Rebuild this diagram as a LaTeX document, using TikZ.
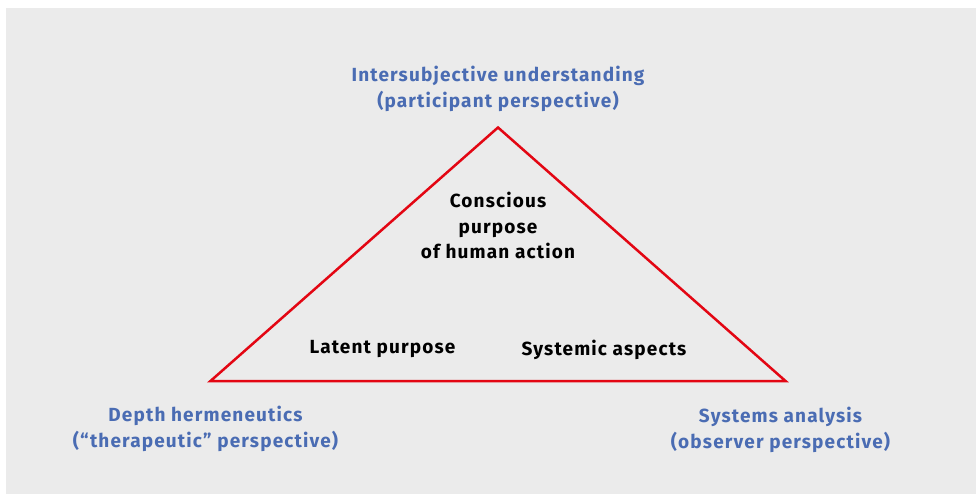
\documentclass[tikz,border=0pt]{standalone}
\usepackage{fontspec}
\setmainfont{Fira Sans}[LetterSpace=6.0]
\definecolor{bgray}{HTML}{EBEBEB}
\definecolor{tblue}{HTML}{4A6CB3}
\definecolor{tred}{HTML}{E30613}
\begin{document}
\begin{tikzpicture}[x=1pt,y=-1pt,
  lbl/.style={inner sep=0pt,align=center,font=\fontsize{19}{25.5}\selectfont\bfseries},
  bluelbl/.style={lbl,text=tblue},
  blacklbl/.style={lbl,text=black},
  tri/.style={draw=tred,line width=2.5pt,line join=miter}]
\useasboundingbox (0,0) rectangle (976,494);
\fill[white] (0,0) rectangle (976,494);
\fill[bgray] (6,8) rectangle (976,494);
\coordinate (top) at (498,127.5);
\coordinate (left) at (210.5,381);
\coordinate (right) at (785.5,381);
\draw[tri] (top) -- (right) -- (left) -- cycle;
\node[bluelbl] (inter) at (498,89) {Intersubjective understanding\\(participant perspective)};
\node[bluelbl] (depth) at (205.5,429) {Depth hermeneutics\\(“therapeutic” perspective)};
\node[bluelbl] (sys) at (780.5,430) {Systems analysis\\(observer perspective)};
\node[blacklbl] (consc) at (498,225.5) {Conscious\\purpose\\of human action};
\node[blacklbl] (latent) at (382.5,349.5) {Latent purpose};
\node[blacklbl] (systemic) at (604,349.5) {Systemic aspects};
\end{tikzpicture}
\end{document}
